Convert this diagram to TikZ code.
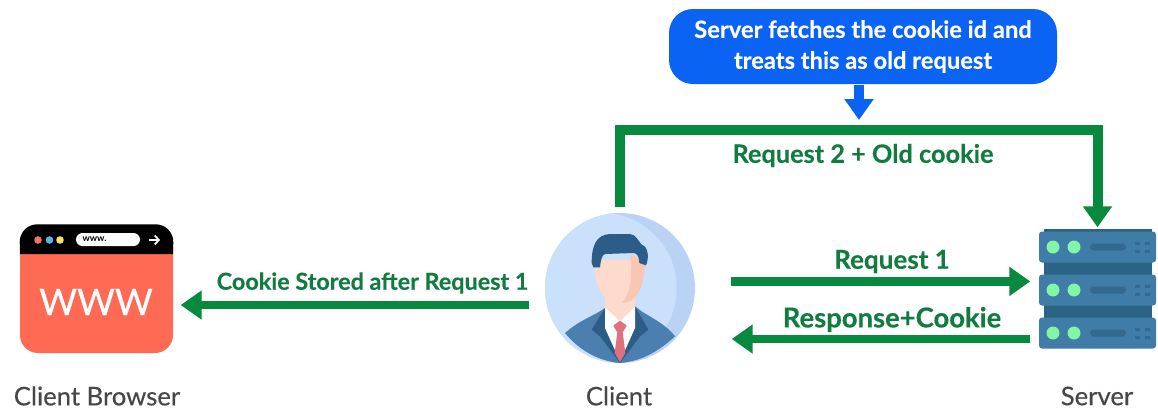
\documentclass[tikz,border=0pt]{standalone}
\usepackage{fontspec}
\setmainfont{Lato}
\usetikzlibrary{arrows.meta}
\definecolor{flowgreen}{HTML}{078A3E}
\definecolor{textgreen}{HTML}{117C40}
\definecolor{noteblue}{HTML}{0A63F2}
\definecolor{coral}{HTML}{FF6A55}
\definecolor{dotcoral}{HTML}{EE7560}
\definecolor{dotcyan}{HTML}{58B8E2}
\definecolor{dotyellow}{HTML}{EFE26A}
\definecolor{skyback}{HTML}{BAD3F5}
\definecolor{skyfront}{HTML}{CBE1FB}
\definecolor{rackblue}{HTML}{3F7CA8}
\definecolor{rackdark}{HTML}{2A6482}
\definecolor{rackslot}{HTML}{33688F}
\definecolor{ledgreen}{HTML}{83F5A6}
\definecolor{suitblue}{HTML}{4A7FB0}
\definecolor{suitdark}{HTML}{2C5C88}
\definecolor{skin}{HTML}{FDDACB}
\definecolor{skindark}{HTML}{F8C6B2}
\definecolor{tiered}{HTML}{E0707E}
\tikzset{
	flow/.style={draw=flowgreen,line width=0.085cm},
	flowlabel/.style={text=textgreen,font=\fontsize{#1}{9}\selectfont\bfseries\addfontfeature{FakeBold=0.3},inner sep=0pt},
	caption/.style={text=black!72,font=\fontsize{7.3}{9}\selectfont\addfontfeature{FakeBold=0.35},inner sep=0pt}
}
\begin{document}
\begin{tikzpicture}[line join=miter, >={Triangle[length=0.21cm,width=0.28cm]}]
	\useasboundingbox (0,0) rectangle (11.58,4.09);
	% browser
	\node[fill=coral,rounded corners=0.18cm,minimum width=1.53cm,minimum height=1.28cm,inner sep=0pt] (browser) at (0.965,1.2) {};
	\fill[black] (0.2,1.55) [rounded corners=0.18cm] -- (browser.north west) -- (browser.north east) [sharp corners] -- (1.73,1.55) -- cycle;
	\foreach \x/\c in {0.38/dotcoral,0.495/dotcyan,0.6/dotyellow}\fill[\c] (\x,1.69) circle (0.038);
	\fill[white,rounded corners=0.065cm] (0.76,1.63) rectangle (1.4,1.76);
	\node[font=\fontsize{2.6}{3}\selectfont\bfseries,inner sep=0pt] (urltext) at (0.945,1.695) {www.};
	\draw[white,line width=0.018cm,-{Straight Barb[length=0.04cm,width=0.09cm]}] (1.49,1.69)--(1.6,1.69);
	\node[white,font=\fontsize{10.4}{12}\selectfont\addfontfeature{FakeBold=0.5},inner sep=0pt] (wwwtext) at (0.96,1.07) {WWW};
	% client
	\node[circle,fill=skyback,minimum size=1.5cm,inner sep=0pt] (client) at (6.2,1.21) {};
	\begin{scope}[shift={(client.center)},scale=1/3]
		\clip (0,0) circle (2.25);
		\fill[skyfront] (-0.55,0) circle (2.25);
		\fill[suitblue] (-1.65,-1.35) .. controls (-1.2,-0.95) and (-0.8,-0.85) .. (-0.45,-0.6)--(0.45,-0.55) .. controls (0.8,-0.85) and (1.3,-1) .. (1.65,-1.45) .. controls (1.1,-1.95) and (0.6,-2.2) .. (0,-2.25) .. controls (-0.6,-2.2) and (-1.2,-1.9) .. cycle;
		\fill[suitdark] (-0.45,-0.6)--(-0.85,-1.25)--(-0.6,-1.45)--(0,-2.25)--(0.6,-1.45)--(0.85,-1.25)--(0.45,-0.55)--cycle;
		\fill[white] (-0.45,-0.6)--(0.45,-0.55)--(0.45,-1.2)--(0,-2.2)--(-0.45,-1.2)--cycle;
		\fill[tiered] (0,-0.98)--(0.2,-1.13)--(0.08,-1.33)--(0.16,-1.95)--(0,-2.22)--(-0.16,-1.95)--(-0.08,-1.33)--(-0.2,-1.13)--cycle;
		\fill[skin] (-0.45,-0.3)--(-0.45,-0.58)--(0,-1.0)--(0.45,-0.55)--(0.45,-0.3)--cycle;
		\fill[skin] (-0.75,0.85) .. controls (-0.8,0.2) and (-0.6,-0.45) .. (0,-0.45) .. controls (0.6,-0.45) and (0.75,0.2) .. (0.75,0.85)--cycle;
		\fill[skindark] (0.3,1) .. controls (0.4,0.3) and (0.3,-0.2) .. (0.05,-0.45) .. controls (0.6,-0.42) and (0.75,0.2) .. (0.75,0.85)--cycle;
		\fill[suitdark] (-0.85,0.75) .. controls (-0.85,1.3) and (-0.7,1.6) .. (-0.3,1.62)--(0.3,1.62) .. controls (0.5,1.6) and (0.55,1.4) .. (0.65,1.3) .. controls (0.85,1.25) and (0.88,0.9) .. (0.78,0.68)--(0.58,0.75) .. controls (0.58,0.95) and (0.5,1.05) .. (0.4,1.05)--(-0.45,1.02) .. controls (-0.55,1) and (-0.58,0.8) .. (-0.6,0.62)--(-0.8,0.62)--cycle;
	\end{scope}
	% server
	\node[minimum width=1.17cm,minimum height=1.17cm,inner sep=0pt] (server) at (10.975,1.185) {};
	\fill[rackdark] (10.44,0.65) rectangle (11.52,1.8);
	\foreach \y in {1.62,1.19,0.76}{
		\fill[rackblue,rounded corners=0.03cm] (10.39,\y-0.155) rectangle (11.56,\y+0.155);
		\foreach \x in {10.53,10.74}\fill[ledgreen] (\x,\y) circle (0.065);
		\fill[rackslot,rounded corners=0.035cm] (10.9,\y-0.035) rectangle (11.26,\y+0.035);
		\foreach \x in {11.37,11.47}\foreach \d in {-0.04,0.04}\fill[rackslot] (\x-0.025,\y+\d-0.015) rectangle (\x+0.025,\y+\d+0.015);
	}
	% note
	\node[fill=noteblue,rounded corners=0.24cm,minimum width=3.88cm,minimum height=0.75cm,inner sep=0pt,align=center,text=white,font=\fontsize{6.75}{8.8}\selectfont\bfseries\addfontfeature{FakeBold=0.3}] (note) at (8.63,3.625) {Server fetches the cookie id and\\treats this as old request};
	% connectors
	\coordinate (bend) at (server.north |- 0,2.79);
	\draw[flow,->,shorten <=0.17cm,shorten >=0.07cm] (client.193)--(client.193 -| browser.east);
	\draw[flow,->,shorten <=0.36cm,shorten >=0.08cm] (client.5)--(client.5 -| server.west);
	\draw[flow,->,shorten <=0.08cm,shorten >=0.36cm] ([yshift=-0.485cm]server.west)--([yshift=-0.485cm]server.west -| client.east);
	\draw[flow,line width=0.1cm,->,shorten <=0.05cm,shorten >=0.04cm] (client.north) |- (bend)--(server.north);
	\draw[draw=noteblue,line width=0.1cm,->,shorten >=0.05cm] ([xshift=-0.04cm]note.south)--([xshift=-0.04cm]note.south |- 0,2.84);
	% labels
	\node[flowlabel=6.65] (cookielabel) at (3.725,1.26) {Cookie Stored after Request 1};
	\node[flowlabel=7.4] (req1label) at (8.92,1.475) {Request 1};
	\node[flowlabel=7.8] (resplabel) at (8.92,0.895) {Response+Cookie};
	\node[flowlabel=7.2] (req2label) at (8.63,2.535) {Request 2 + Old cookie};
	\node[caption] (browsercap) at (0.97,0.13) {Client Browser};
	\node[caption] (clientcap) at (6.19,0.13) {Client};
	\node[caption] (servercap) at (10.97,0.13) {Server};
\end{tikzpicture}
\end{document}
